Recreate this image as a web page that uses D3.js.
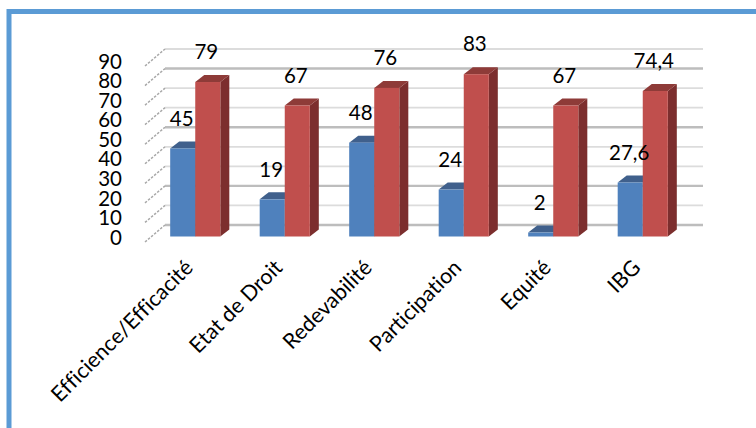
<!DOCTYPE html>
<html><head><meta charset="utf-8">
<script src="https://cdn.jsdelivr.net/npm/d3@7"></script>
<style>html,body{margin:0;padding:0;background:#fff}svg{display:block}text{font-family:Lato,"Open Sans",sans-serif;fill:#000;font-variant-ligatures:none}</style>
</head><body><div id="c"></div>
<script>
const categories=["Efficience/Efficacité","Etat de Droit","Redevabilité","Participation","Equité","IBG"];
const seriesA=[45,19,48,24,2,27.6];
const seriesB=[79,67,76,83,67,74.4];
const labelsA=["45","19","48","24","2","27,6"];
const labelsB=["79","67","76","83","67","74,4"];
const yTicks=[0,10,20,30,40,50,60,70,80,90];
const heavyTicks=[0,20,50,80];

const W=756,H=428;
const svg=d3.select("#c").append("svg").attr("width",W).attr("height",H);
const defs=svg.append("defs");
defs.append("filter").attr("id","soft").append("feGaussianBlur").attr("stdDeviation",0.5);

// frame
svg.append("path").attr("d",`M9,${H} V11.5 H${W}`).attr("fill","none").attr("stroke","#5B9BD5").attr("stroke-width",5);

const root=svg.append("g").attr("filter","url(#soft)");
const x=d3.scaleBand().domain(categories).range([150.5,687.5]).paddingInner(0.44).paddingOuter(0.22);
const xs=d3.scaleBand().domain(["a","b"]).range([0,x.bandwidth()]);
const y=d3.scaleLinear().domain([0,90]).range([236.5,60.5]);
const wall={dx:20,dy:11.5,right:703,left:145}, bar={dx:9,dy:7};

// wall grid and slanted side ticks
const gy=t=>y(t)-wall.dy;
root.selectAll(".grid").data(yTicks).join("line")
  .attr("x1",wall.left+wall.dx).attr("x2",wall.right)
  .attr("y1",gy).attr("y2",gy)
  .attr("stroke",t=>heavyTicks.includes(t)?"#bdbdbd":"#dcdcdc")
  .attr("stroke-width",t=>heavyTicks.includes(t)?2.4:1.8);
root.selectAll(".side").data(yTicks).join("line")
  .attr("x1",wall.left).attr("x2",wall.left+wall.dx)
  .attr("y1",t=>y(t)+5.5).attr("y2",gy)
  .attr("stroke","#a8a8a8").attr("stroke-width",1.5).attr("stroke-dasharray","2.5 1.5");

// bars
const series=[
 {k:"a",vals:seriesA,front:"#4F81BD",top:"#3F618C",side:"#345478",labels:labelsA,shift:-1},
 {k:"b",vals:seriesB,front:"#C0504D",top:"#8E3A38",side:"#7B2F2D",labels:labelsB,shift:-1.5}
];
series.forEach(s=>{
  const g=root.append("g");
  const rows=categories.map((c,i)=>({c,v:s.vals[i],l:s.labels[i]}));
  const bx=d=>x(d.c)+xs(s.k), bw=xs.bandwidth();
  g.selectAll(".s").data(rows).join("path").attr("fill",s.side)
    .attr("d",d=>`M${bx(d)+bw},${y(d.v)}l${bar.dx},${-bar.dy}V${y(0)-bar.dy}l${-bar.dx},${bar.dy}Z`);
  g.selectAll(".t").data(rows).join("path").attr("fill",s.top)
    .attr("d",d=>`M${bx(d)},${y(d.v)}l${bar.dx},${-bar.dy}h${bw}l${-bar.dx},${bar.dy}Z`);
  g.selectAll(".f").data(rows).join("rect").attr("fill",s.front)
    .attr("x",bx).attr("width",bw).attr("y",d=>y(d.v)).attr("height",d=>y(0)-y(d.v));
});
// data labels
series.forEach(s=>{
  const rows=categories.map((c,i)=>({c,v:s.vals[i],l:s.labels[i]}));
  svg.append("g").selectAll("text").data(rows).join("text")
    .attr("x",d=>x(d.c)+xs(s.k)+xs.bandwidth()/2+s.shift)
    .attr("y",d=>y(d.v)-30).attr("dy","0.35em")
    .attr("text-anchor","middle").attr("font-size",20.5).text(d=>d.l);
});
// axes
svg.append("g").selectAll("text").data(yTicks).join("text")
  .attr("x",122).attr("y",t=>y(t)+1).attr("dy","0.35em").attr("text-anchor","end").attr("font-size",20.5).text(t=>t);
svg.append("g").selectAll("text").data(categories).join("text")
  .attr("text-anchor","end").attr("font-size",21.5)
  .attr("transform",c=>`translate(${x(c)+x.bandwidth()/2-1},${269}) rotate(-45)`).text(c=>c);
</script></body></html>
